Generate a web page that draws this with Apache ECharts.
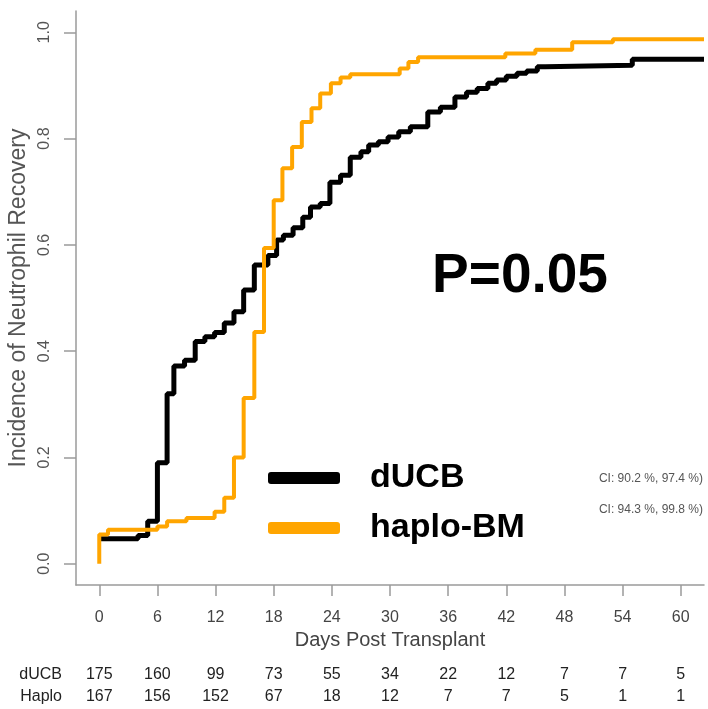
<!DOCTYPE html>
<html>
<head>
<meta charset="utf-8">
<script src="https://cdn.jsdelivr.net/npm/echarts@6/dist/echarts.min.js"></script>
<style>
  html, body { margin: 0; padding: 0; background: #fff; }
  #main { width: 708px; height: 709px; }
</style>
</head>
<body>
<div id="main"></div>
<script>
// tick positions on the day axis and the risk table under it
const dayTicks = [0, 6, 12, 18, 24, 30, 36, 42, 48, 54, 60]
const incTicks = [0, 0.2, 0.4, 0.6, 0.8, 1.0]
const atRiskDUCB = [175, 160, 99, 73, 55, 34, 22, 12, 7, 7, 5]
const atRiskHaplo = [167, 156, 152, 67, 18, 12, 7, 7, 5, 1, 1]

// cumulative incidence steps
const dUCBDays = [0, 4, 5, 6, 7, 7.7, 8.8, 9.9, 10.9, 11.9, 12.9, 13.9, 14.9, 16, 17.4, 18.3, 19, 20, 21, 21.8, 22.8, 23.8, 24.9, 25.9, 27, 27.8, 28.8, 29.8, 30.9, 32.1, 33.9, 35.2, 36.7, 37.9, 39, 40.1, 41, 42, 43.1, 44.1, 45.2, 46, 55, 62.4]
const dUCBInc = [0.047, 0.053, 0.08, 0.19, 0.32, 0.372, 0.383, 0.418, 0.427, 0.435, 0.453, 0.474, 0.515, 0.562, 0.58, 0.609, 0.618, 0.632, 0.652, 0.671, 0.678, 0.718, 0.731, 0.765, 0.775, 0.788, 0.794, 0.803, 0.813, 0.822, 0.85, 0.859, 0.878, 0.887, 0.894, 0.904, 0.91, 0.917, 0.923, 0.927, 0.935, 0.938, 0.949, 0.949]

const haploDays = [0, 0, 0.9, 6, 7, 9, 11.9, 12.9, 13.9, 14.9, 16, 17, 18, 18.9, 19.9, 20.9, 21.9, 22.8, 23.9, 24.9, 25.9, 31, 31.9, 32.9, 41.9, 45, 48.8, 53, 62.4]
const haploInc = [0, 0.055, 0.064, 0.07, 0.08, 0.086, 0.098, 0.124, 0.2, 0.312, 0.436, 0.594, 0.684, 0.744, 0.784, 0.831, 0.857, 0.885, 0.904, 0.915, 0.921, 0.932, 0.944, 0.953, 0.96, 0.967, 0.981, 0.987, 0.987]

const font = 'Arial, "Liberation Sans", sans-serif'
const axisGray = '#9a9a9a'

const toPairs = (xs, ys) => xs.map((x, i) => [x, ys[i]])

// extra x axis used only to print one row of the risk table
const riskAxis = (name, counts, offset) => ({
  type: 'value',
  gridIndex: 0,
  position: 'bottom',
  min: -2.4,
  max: 62.4,
  offset: offset,
  name: name,
  nameLocation: 'start',
  nameGap: 14,
  nameTextStyle: { fontSize: 16, color: '#222', fontFamily: font },
  axisLine: { show: false, onZero: false },
  axisTick: { show: false },
  splitLine: { show: false },
  axisLabel: {
    customValues: dayTicks,
    margin: 0,
    verticalAlign: 'middle',
    fontSize: 16,
    color: '#222',
    fontFamily: font,
    formatter: v => {
      const i = dayTicks.indexOf(v)
      return i >= 0 ? String(counts[i]) : ''
    }
  }
})

const myChart = echarts.init(document.getElementById('main'))

myChart.setOption({
  animation: false,
  grid: {
    left: 76,
    right: 4,
    top: 11,
    bottom: 124,
    containLabel: false,
    outerBoundsMode: 'none'
  },
  legend: {
    data: ['dUCB', 'haplo-BM'],
    orient: 'vertical',
    left: 263,
    top: 453,
    icon: 'roundRect',
    itemWidth: 72,
    itemHeight: 12,
    itemGap: 10,
    textStyle: {
      fontSize: 34,
      fontWeight: 'bold',
      color: '#000',
      lineHeight: 40,
      padding: [0, 0, 0, 25],
      fontFamily: font
    }
  },
  xAxis: [
    {
      type: 'value',
      min: -2.4,
      max: 62.4,
      name: 'Days Post Transplant',
      nameLocation: 'middle',
      nameGap: 45,
      nameMoveOverlap: false,
      nameTextStyle: { fontSize: 20, color: '#444', fontFamily: font },
      axisLine: { show: true, onZero: false, lineStyle: { color: axisGray, width: 1.5 } },
      axisTick: {
        show: true,
        customValues: dayTicks,
        length: 11,
        lineStyle: { color: axisGray, width: 1.5 }
      },
      axisLabel: {
        customValues: dayTicks,
        margin: 25,
        fontSize: 16,
        color: '#444',
        fontFamily: font
      },
      splitLine: { show: false }
    },
    riskAxis('dUCB', atRiskDUCB, 90),
    riskAxis('Haplo', atRiskHaplo, 112)
  ],
  yAxis: {
    type: 'value',
    min: -0.04,
    max: 1.04,
    name: 'Incidence of Neutrophil Recovery',
    nameLocation: 'middle',
    nameGap: 46,
    nameMoveOverlap: false,
    nameTextStyle: { fontSize: 23, color: '#555', fontFamily: font },
    axisLine: { show: true, onZero: false, lineStyle: { color: axisGray, width: 1.5 } },
    axisTick: {
      show: true,
      customValues: incTicks,
      length: 12,
      lineStyle: { color: axisGray, width: 1.5 }
    },
    axisLabel: {
      customValues: incTicks,
      rotate: 90,
      margin: 23,
      fontSize: 16,
      color: '#555',
      fontFamily: font,
      formatter: v => v.toFixed(1)
    },
    splitLine: { show: false }
  },
  series: [
    {
      name: 'dUCB',
      type: 'line',
      step: 'end',
      showSymbol: false,
      data: toPairs(dUCBDays, dUCBInc),
      itemStyle: { color: '#000' },
      lineStyle: { color: '#000', width: 5 }
    },
    {
      name: 'haplo-BM',
      type: 'line',
      step: 'end',
      showSymbol: false,
      data: toPairs(haploDays, haploInc),
      itemStyle: { color: '#FFA500' },
      lineStyle: { color: '#FFA500', width: 4 }
    }
  ],
  graphic: [
    {
      type: 'text',
      x: 520,
      y: 277,
      style: {
        text: 'P=0.05',
        fontSize: 55,
        fontWeight: 'bold',
        fill: '#000',
        align: 'center',
        verticalAlign: 'middle',
        fontFamily: font
      }
    },
    {
      type: 'text',
      x: 703,
      y: 479,
      style: {
        text: 'CI: 90.2 %, 97.4 %)',
        fontSize: 12,
        fill: '#555',
        align: 'right',
        verticalAlign: 'middle',
        fontFamily: font
      }
    },
    {
      type: 'text',
      x: 703,
      y: 510,
      style: {
        text: 'CI: 94.3 %, 99.8 %)',
        fontSize: 12,
        fill: '#555',
        align: 'right',
        verticalAlign: 'middle',
        fontFamily: font
      }
    }
  ]
})
</script>
</body>
</html>
